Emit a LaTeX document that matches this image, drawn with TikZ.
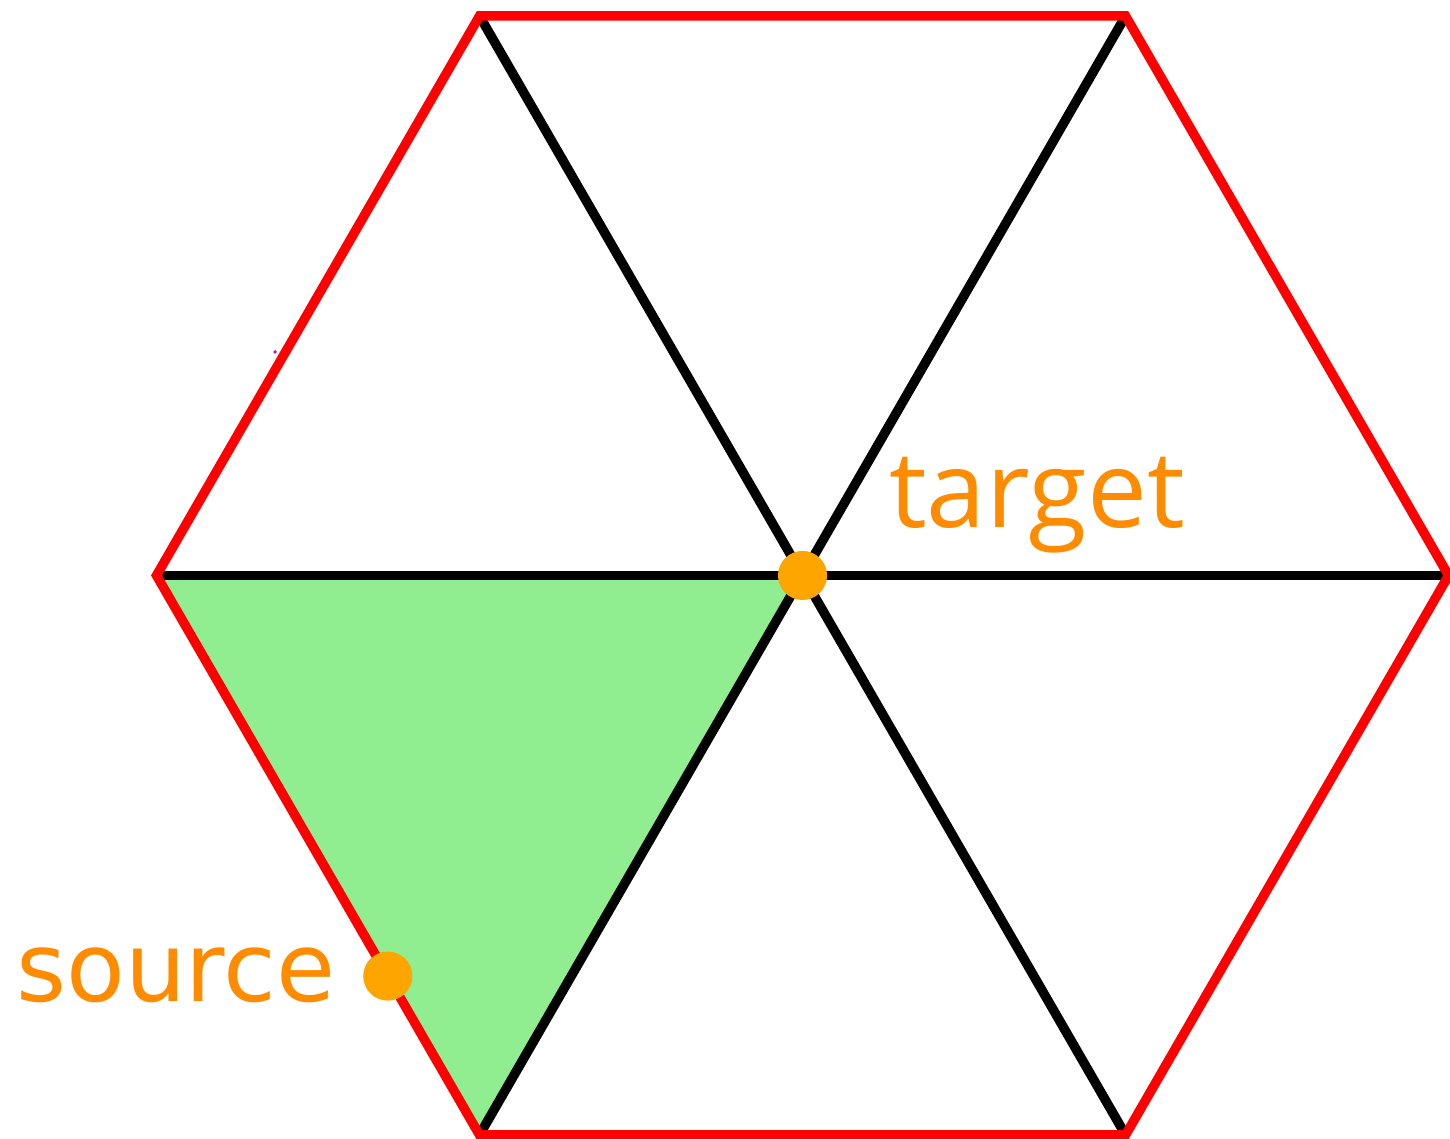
\documentclass[tikz,border=0pt]{standalone}
\usepackage{fontspec}
\usepackage{tikz}
\usetikzlibrary{
    positioning,
    calc
}
\newfontfamily\srcfont{DejaVu Sans}
\newfontfamily\tgtfont{Open Sans}
\definecolor{HexRed}{RGB}{255,0,0}
\definecolor{CellGreen}{RGB}{144,238,144}
\definecolor{DotOrange}{RGB}{255,165,0}
\definecolor{LabelOrange}{RGB}{255,140,0}
\definecolor{SpeckPurple}{RGB}{160,32,240}

\begin{document}
\begin{tikzpicture}[
    hexedge/.style={draw=HexRed, line width=1.67pt},
    spoke/.style={draw=black, line width=1.67pt},
    cell/.style={fill=CellGreen},
    marker/.style={circle, fill=DotOrange, inner sep=0pt, minimum size=0.304cm},
    lbl/.style={text=LabelOrange, inner sep=0pt}
]
\useasboundingbox (-4.969,-3.489) rectangle (4.009,3.563);
\coordinate (c) at (0,0);
\coordinate (v0) at (0:4);
\coordinate (v1) at (60:4);
\coordinate (v2) at (120:4);
\coordinate (v3) at (180:4);
\coordinate (v4) at (240:4);
\coordinate (v5) at (300:4);

\fill[cell] (c) -- (v3) -- (v4) -- cycle;
\draw[spoke] (v3) -- (v0);
\draw[spoke] (v1) -- (v4);
\draw[spoke] (v2) -- (v5);
\draw[hexedge] (v0) -- (v1) -- (v2) -- (v3) -- (v4) -- (v5) -- cycle;

\node[marker] (tgt) at (c) {};
\node[marker] (src) at ($(v3)!0.716!(v4)$) {};
\node[lbl, anchor=base west, font=\fontsize{18.8}{22}\selectfont] (tgtlabel) at ($(tgt)+(0.53,0.294)$) {\tgtfont target};
\node[lbl, anchor=base east, font=\fontsize{16.9}{20}\selectfont] (srclabel) at ($(src)+(-0.32,-0.16)$) {\srcfont source};
\fill[SpeckPurple] (-3.266,1.384) circle (0.012);
\end{tikzpicture}
\end{document}
